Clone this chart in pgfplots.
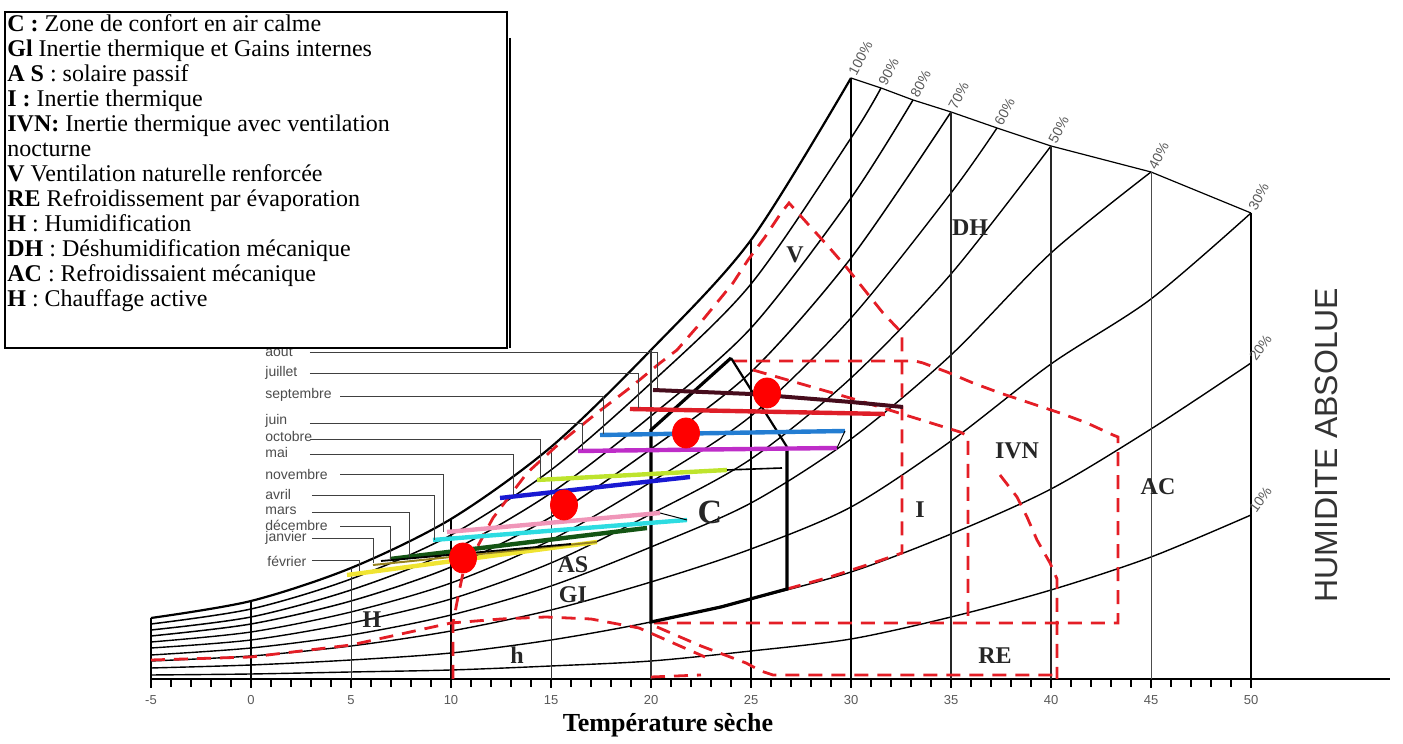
\documentclass[border=0pt]{standalone}
\usepackage{fontspec}
\setmainfont{Liberation Serif}
\newfontfamily\arial{Liberation Sans}
\usepackage{pgfplots}
\pgfplotsset{compat=1.18}
\definecolor{rd}{RGB}{228,30,38}
\definecolor{maroon}{RGB}{70,12,28}
\definecolor{jul}{RGB}{222,30,40}
\definecolor{sep}{RGB}{35,125,210}
\definecolor{jun}{RGB}{190,45,200}
\definecolor{oct}{RGB}{190,228,45}
\definecolor{mai}{RGB}{25,25,210}
\definecolor{nov}{RGB}{240,150,185}
\definecolor{avr}{RGB}{45,220,225}
\definecolor{mar}{RGB}{20,85,20}
\definecolor{fev}{RGB}{240,228,50}
\definecolor{jan}{RGB}{150,130,30}
\tikzset{rdash/.style={color=rd, line width=1.4pt, dash pattern=on 7pt off 4.5pt},
  mlab/.style={anchor=west, inner sep=0pt, font=\arial\fontsize{7}{8}\selectfont, text=black!70},
  plab/.style={rotate=62, anchor=west, inner sep=1pt, font=\arial\fontsize{7}{8}\selectfont, text=black!65},
  zlab/.style={font=\bfseries\fontsize{12}{13}\selectfont, text=black!85}}
\begin{document}
\begin{tikzpicture}
\begin{axis}[
 x=10pt, y=0.5pt,
 xmin=-5, xmax=56.95, ymin=0, ymax=679,
 axis x line=bottom, axis y line=none,
 x axis line style={-, line width=1pt},
 xtick={-5,0,5,10,15,20,25,30,35,40,45,50},
 xticklabels={-5,0,5,10,15,20,25,30,35,40,45,50},
 minor x tick num=4,
 tick align=outside,
 major tick length=4.5pt, minor tick length=4pt,
 every tick/.style={black, line width=0.6pt},
 xticklabel style={font=\arial\fontsize{6.5}{7}\selectfont, text=black!65},
 clip=false,
]
% invisible frame giving the picture its size
\path (axis cs:-12.55,-59) rectangle (axis cs:57.6,679);

% ---- relative humidity curves ----
\addplot[black, line width=1.1pt, smooth] coordinates {(-5,61)(0,78)(5,111)(10,160)(15,232)(20,329)(25,439)(30,601)};
\addplot[black, line width=0.75pt, smooth] coordinates {(-5,55)(0,70)(5,100)(10,144)(15,209)(20,296)(25,395)(30,541)(31.5,591)};
\addplot[black, line width=0.75pt, smooth] coordinates {(-5,49)(0,62)(5,89)(10,128)(15,186)(20,263)(25,351)(30,481)(33.1,579)};
\addplot[black, line width=0.75pt, smooth] coordinates {(-5,43)(0,55)(5,78)(10,112)(15,162)(20,230)(25,307)(30,421)(35,567)};
\addplot[black, line width=0.7pt, smooth] coordinates {(-5,37)(0,47)(5,67)(10,96)(15,139)(20,197)(25,263)(30,361)(35,486)(37.3,551)};
\addplot[black, line width=0.7pt, smooth] coordinates {(-5,31)(0,39)(5,56)(10,80)(15,116)(20,165)(25,220)(30,301)(35,405)(40,533)};
\addplot[black, line width=0.7pt, smooth] coordinates {(-5,24)(0,31)(5,44)(10,64)(15,93)(20,132)(25,176)(30,240)(35,324)(40,426)(45,507)};
\addplot[black, line width=0.7pt, smooth] coordinates {(-5,18)(0,23)(5,33)(10,48)(15,69)(20,97)(25,130)(30,172)(35,238)(40,315)(45,380)(50,466)};
\addplot[black, line width=0.7pt, smooth] coordinates {(-5,11)(0,14)(5,19)(10,26)(15,39)(20,57)(25,80)(30,107)(35,145)(40,190)(45,250)(50,316)};
\addplot[black, line width=0.7pt, smooth] coordinates {(-5,4)(0,5)(5,7)(10,9)(15,13)(20,18)(25,28)(30,40)(35,62)(40,89)(45,122)(50,164)};
% top boundary
\addplot[black, line width=0.6pt] coordinates {(30,601)(31.5,591)(33.1,579)(35,567)(37.3,551)(40,533)(45,507)(50,466)};

% ---- temperature verticals ----
\addplot[black, line width=1.1pt] coordinates {(-5,0)(-5,61)};
\addplot[black, line width=1pt] coordinates {(0,0)(0,78)};
\addplot[black!80, line width=0.5pt] coordinates {(5,0)(5,111)};
\addplot[black, line width=1pt] coordinates {(10,0)(10,160)};
\addplot[black!80, line width=0.5pt] coordinates {(15,0)(15,232)};
\addplot[black!80, line width=0.6pt] coordinates {(20,0)(20,329)};
\addplot[black, line width=1pt] coordinates {(25,0)(25,439)};
\addplot[black, line width=1.2pt] coordinates {(30,0)(30,601)};
\addplot[black!85, line width=0.6pt] coordinates {(35,0)(35,567)};
\addplot[black!85, line width=0.6pt] coordinates {(40,0)(40,533)};
\addplot[black!70, line width=0.5pt] coordinates {(45,0)(45,507)};
\addplot[black, line width=1pt] coordinates {(50,0)(50,466)};

% ---- red dashed zones ----
\addplot[rdash] coordinates {(10.1,0)(10.1,56)(10.35,82)(10.6,106)(11.45,137)(12.1,161)(13.8,206)(15.5,237)(17.3,266)(19,292)(20.45,316)(21.3,329)(22.3,352)(23.2,374)(24.1,396)(24.85,419)(25.7,442)(26.5,466)(26.9,476)(27.8,456)(28.8,434)(29.8,411)(30.6,391)(31.6,366)(32.55,346)(32.55,126)(31.1,116)(28.95,102)(26.8,90)};
\addplot[rdash] coordinates {(24.1,318)(33.2,318)(33.6,316)(34.8,307)(36.1,296)(37.45,286)(38.95,276)(40.45,266)(41.8,256)(43.1,244)(43.35,242)(43.35,56)(20,56)};
\addplot[rdash] coordinates {(25.1,309)(30.3,279)(35.45,247)(35.85,243)(35.85,56)};
\addplot[rdash] coordinates {(37.45,204)(38.3,182)(38.8,162)(39.3,139)(39.95,116)(40.3,100)(40.3,0)};
\addplot[rdash] coordinates {(-5,19)(0,22)(5,34)(10,56)(12.5,60)(14.75,62)(17,60)(19.4,51)(22.7,22)};
\addplot[rdash] coordinates {(20.3,52)(22.5,33)(24.75,16)(25.5,8)(26.1,4)(40.3,4)};
\addplot[rdash] coordinates {(20,2)(22.5,4)};

% ---- comfort zone ----
\addplot[black, line width=1.6pt] coordinates {(26.8,232)(26.8,90)(23.5,72)(20,57)(20,249)(24,321)};
\addplot[black, line width=1.1pt] coordinates {(24,321)(26.8,232)};

% ---- monthly lines ----
\addplot[fev, line width=2.2pt] coordinates {(4.8,104)(17.3,137)};
\addplot[jan, line width=1pt] coordinates {(6.1,114)(17.3,137)};
\addplot[mar, line width=2.2pt] coordinates {(6.95,120)(19.8,151)};
\addplot[black, line width=0.9pt] coordinates {(6.5,118)(16,135)};
\addplot[avr, line width=2.2pt] coordinates {(9.1,139)(21.8,159)};
\addplot[black, line width=0.5pt] coordinates {(20.45,166)(21.8,159)};
\addplot[nov, line width=2.2pt] coordinates {(9.8,147)(20.45,166)};
\addplot[mai, line width=2.2pt] coordinates {(12.45,181)(21.95,202)};
\addplot[oct, line width=2.2pt] coordinates {(14.3,199)(23.8,209)};
\addplot[black, line width=0.8pt] coordinates {(23.8,209)(26.55,211)};
\addplot[jun, line width=2.2pt] coordinates {(16.35,228)(29.3,231)};
\addplot[sep, line width=2.2pt] coordinates {(17.45,244)(29.7,248)};
\addplot[black, line width=0.5pt] coordinates {(29.7,248)(29.3,231)};
\addplot[jul, line width=2.2pt] coordinates {(18.95,270)(31.7,265)};
\addplot[maroon, line width=2pt] coordinates {(20.1,289)(25,285)(30,277)(32.6,272)};

% ---- month leaders ----
\addplot[black!75, line width=0.5pt] coordinates {(2.95,326)(20.3,326)(20.3,291)};
\addplot[black!75, line width=0.5pt] coordinates {(2.95,305)(19.35,305)(19.35,271)};
\addplot[black!75, line width=0.5pt] coordinates {(4.45,282)(17.6,282)(17.6,245)};
\addplot[black!75, line width=0.5pt] coordinates {(2.95,255)(16.55,255)(16.55,229)};
\addplot[black!75, line width=0.5pt] coordinates {(2.95,239)(14.45,239)(14.45,200)};
\addplot[black!75, line width=0.5pt] coordinates {(2.95,224)(13.1,224)(13.1,184)};
\addplot[black!75, line width=0.5pt] coordinates {(4.45,204)(9.6,204)(9.6,147)};
\addplot[black!75, line width=0.5pt] coordinates {(3.05,183)(9.15,183)(9.15,139)};
\addplot[black!75, line width=0.5pt] coordinates {(3.05,166)(7.9,166)(7.9,122)};
\addplot[black!75, line width=0.5pt] coordinates {(4.45,152)(6.95,152)(6.95,119)};
\addplot[black!75, line width=0.5pt] coordinates {(3.05,140)(6.1,140)(6.1,116)};
\addplot[black!75, line width=0.5pt] coordinates {(3.05,118)(5.4,118)(5.4,108)};

\node[mlab] at (axis cs:0.7,327) {aout};
\node[mlab] at (axis cs:0.7,306) {juillet};
\node[mlab] at (axis cs:0.7,284) {septembre};
\node[mlab] at (axis cs:0.7,258) {juin};
\node[mlab] at (axis cs:0.7,242) {octobre};
\node[mlab] at (axis cs:0.7,226) {mai};
\node[mlab] at (axis cs:0.7,204) {novembre};
\node[mlab] at (axis cs:0.7,184) {avril};
\node[mlab] at (axis cs:0.7,168) {mars};
\node[mlab] at (axis cs:0.7,154) {décembre};
\node[mlab] at (axis cs:0.7,141) {janvier};
\node[mlab] at (axis cs:0.8,118) {février};

% ---- red dots ----
\addplot[only marks, mark=*, mark size=7.5pt, mark options={xscale=0.9, fill=red, draw=red}] coordinates {(10.6,121)(15.65,174)(21.75,246)(25.8,286)};

% ---- zone labels ----
\node[font=\bfseries\fontsize{17}{18}\selectfont, text=black!85] at (axis cs:22.95,167) {C};
\node[zlab] at (axis cs:27.2,424) {V};
\node[zlab] at (axis cs:35.95,451) {DH};
\node[zlab] at (axis cs:38.3,228) {IVN};
\node[zlab] at (axis cs:33.45,169) {I};
\node[zlab] at (axis cs:45.35,192) {AC};
\node[zlab] at (axis cs:16.1,114) {AS};
\node[zlab] at (axis cs:16.1,84) {GI};
\node[zlab] at (axis cs:6.05,59) {H};
\node[zlab] at (axis cs:13.3,24) {h};
\node[zlab] at (axis cs:37.2,23) {RE};

% ---- RH labels ----
\node[plab] at (axis cs:30,603) {100\%};
\node[plab] at (axis cs:31.5,593) {90\%};
\node[plab] at (axis cs:33.1,581) {80\%};
\node[plab] at (axis cs:35,569) {70\%};
\node[plab] at (axis cs:37.3,553) {60\%};
\node[plab] at (axis cs:40,535) {50\%};
\node[plab] at (axis cs:45,509) {40\%};
\node[plab] at (axis cs:50,468) {30\%};
\node[plab, rotate=-7] at (axis cs:50,318) {20\%};
\node[plab, rotate=-7] at (axis cs:50,166) {10\%};

\node[rotate=90, font=\arial\fontsize{16}{17}\selectfont, text=black!80] at (axis cs:53.75,234) {HUMIDITE ABSOLUE};
\node[font=\bfseries\fontsize{13}{14}\selectfont] at (axis cs:20.85,-46) {Température sèche};

% ---- legend box ----
\draw[black, line width=0.8pt, fill=white] (axis cs:-12.3,667) rectangle (axis cs:12.8,331);
\draw[black, line width=0.6pt] (axis cs:12.95,641) -- (axis cs:12.95,331);
\node[anchor=north west, inner sep=0pt, align=left, font=\fontsize{12}{12.5}\selectfont] at (axis cs:-12.2,665) {%
\textbf{C :} Zone de confort en air calme\\
\textbf{Gl} Inertie thermique et Gains internes\\
\textbf{A S} : solaire passif\\
\textbf{I :} Inertie thermique\\
\textbf{IVN:} Inertie thermique avec ventilation\\
nocturne\\
\textbf{V} Ventilation naturelle renforcée\\
\textbf{RE} Refroidissement par évaporation\\
\textbf{H} : Humidification\\
\textbf{DH} : Déshumidification mécanique\\
\textbf{AC} : Refroidissaient mécanique\\
\textbf{H} : Chauffage active};
\end{axis}
\end{tikzpicture}
\end{document}
